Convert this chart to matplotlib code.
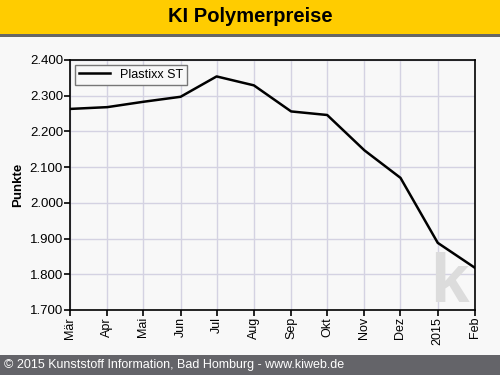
import datetime as dt

import matplotlib.pyplot as plt
from matplotlib.patches import Rectangle
from matplotlib.ticker import FuncFormatter

plt.rcParams['font.family'] = ['Liberation Sans', 'DejaVu Sans']

tick_labels = ["Mär", "Apr", "Mai", "Jun", "Jul", "Aug", "Sep", "Okt", "Nov", "Dez", "2015", "Feb"]
months = [dt.date(2014, m, 1) for m in range(3, 13)] + [dt.date(2015, 1, 1), dt.date(2015, 2, 1)]
plastixx_st = [2263, 2268, 2283, 2297, 2354, 2329, 2256, 2246, 2147, 2070, 1888, 1818]

fig = plt.figure(figsize=(5, 3.75), dpi=100, facecolor="#f8f8f8")

# header and footer bars
fig.patches.append(Rectangle((0, 1 - 34 / 375), 1, 34 / 375, transform=fig.transFigure,
                             facecolor="#ffcc00", edgecolor="none"))
fig.patches.append(Rectangle((0, 1 - 37 / 375), 1, 3 / 375, transform=fig.transFigure,
                             facecolor="#666666", edgecolor="none"))
fig.patches.append(Rectangle((0, 0), 1, 20 / 375, transform=fig.transFigure,
                             facecolor="#646469", edgecolor="none"))
fig.text(0.5, 1 - 17 / 375, "KI Polymerpreise", ha="center", va="center",
         fontsize=14.5, fontweight="bold", color="black")
fig.text(4 / 500, 10 / 375, "© 2015 Kunststoff Information, Bad Homburg - www.kiweb.de",
         ha="left", va="center", fontsize=9, color="white")

ax = fig.add_axes([70 / 500, 1 - 310 / 375, 405 / 500, 250 / 375])
ax.set_facecolor("#f8f8f8")

# watermark
ax.text(0.938, 0.032, "k", transform=ax.transAxes, ha="center", va="baseline",
        fontsize=50, fontweight="bold", color="#dcdcdc", zorder=2)

ax.plot(months, plastixx_st, color="black", linewidth=1.8, label="Plastixx ST", zorder=3)

ax.set_xlim(months[0], months[-1])
ax.set_ylim(1700, 2400)
ax.set_xticks(months)
ax.set_xticklabels(tick_labels, rotation=90, fontsize=9)
ax.set_yticks(range(1700, 2401, 100))
ax.yaxis.set_major_formatter(FuncFormatter(lambda v, p: f"{v / 1000:.3f}"))
ax.tick_params(axis="y", labelsize=9.5, length=4, width=1.2, pad=1)
ax.tick_params(axis="x", length=4, width=1.2, pad=1)
ax.grid(True, color="#d4d2e2", linewidth=1)
ax.set_axisbelow(True)
for s in ax.spines.values():
    s.set_linewidth(1.2)
ax.set_ylabel("Punkte", fontsize=9.5, fontweight="bold", labelpad=4)

leg = ax.legend(loc="upper left", fontsize=9, fancybox=False, framealpha=1,
                borderpad=0.3, handlelength=2.5, borderaxespad=0.4)
leg.get_frame().set_edgecolor("#777777")
leg.get_frame().set_facecolor("#f8f8f8")

fig.savefig("out.png", dpi=100, facecolor=fig.get_facecolor())
